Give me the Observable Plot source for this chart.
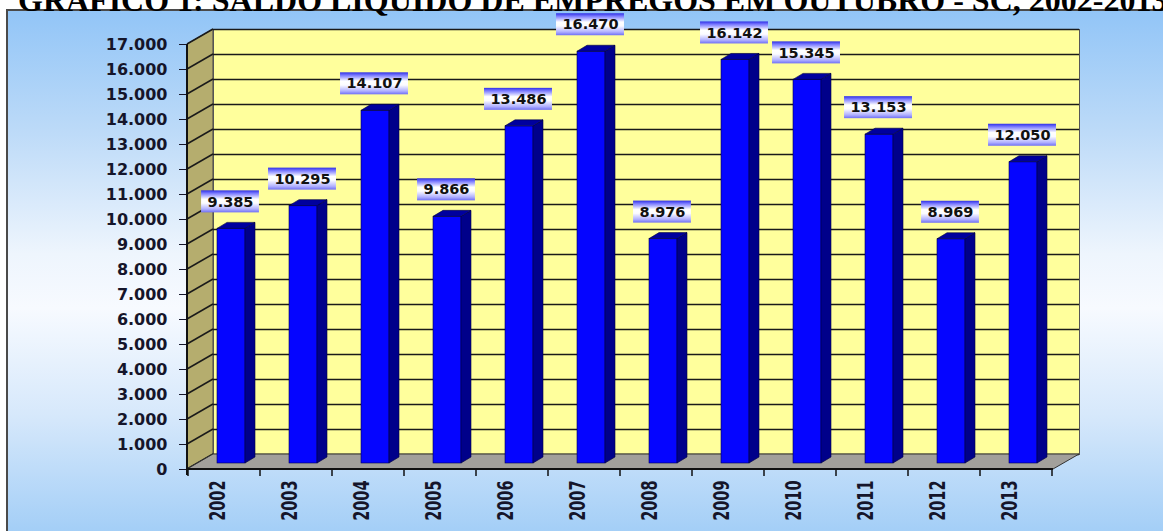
<!DOCTYPE html>
<html>
<head>
<meta charset="utf-8">
<script src="https://cdn.jsdelivr.net/npm/d3@7"></script>
<script src="https://cdn.jsdelivr.net/npm/@observablehq/plot@0.6"></script>
<style>
  html, body { margin: 0; padding: 0; width: 1163px; height: 531px; overflow: hidden; background: #ffffff; position: relative; }
  #frame { position: absolute; left: 6px; top: 9px; width: 1180px; height: 540px;
    border-left: 2px solid #4a4a4a; border-top: 2px solid #4a4a4a;
    background: linear-gradient(to bottom, #92c5f7 0%, #bcdaf8 22%, #eef5fd 45%, #f7faff 55%, #d6e8fb 75%, #9bcaf6 100%); }
  #chart { position: absolute; left: 0; top: 0; }
  #title { position: absolute; left: 18px; top: -18px; white-space: nowrap; line-height: 1;
    font: bold 32px "Liberation Serif", "Times New Roman", serif; color: #000; }
</style>
</head>
<body>
<div id="frame"></div>
<div id="chart"></div>
<div id="title">GRÁFICO 1: SALDO LÍQUIDO DE EMPREGOS EM OUTUBRO - SC, 2002-2013</div>
<script>
// ---- data ----
const years = ["2002", "2003", "2004", "2005", "2006", "2007", "2008", "2009", "2010", "2011", "2012", "2013"];
const saldo = [9385, 10295, 14107, 9866, 13486, 16470, 8976, 16142, 15345, 13153, 8969, 12050];
const yTickValues = [0, 1000, 2000, 3000, 4000, 5000, 6000, 7000, 8000, 9000, 10000, 11000, 12000, 13000, 14000, 15000, 16000, 17000];

const data = years.map((year, i) => ({year, value: saldo[i]}));
const ptBR = d3.formatLocale({decimal: ",", thousands: ".", grouping: [3], currency: ["R$", ""]});
const fmt = ptBR.format(",d");

// ---- 3D geometry (styling constants) ----
const DX = 26, DY = -15;          // wall depth
const BAR_L = 29, BAR_R = 15;     // front face insets within band
const BDX = 10, BDY = -6;         // bar depth
const LIFT = -6;                  // bar sits inside the floor

function bandwidth(x) {
  return typeof x.bandwidth === "function" ? x.bandwidth() : (x(years[1]) - x(years[0]));
}

function sideWall(index, scales, values, dim) {
  const {y} = scales;
  const left = dim.marginLeft;
  const y0 = y(0), yT = y(yTickValues[yTickValues.length - 1]);
  const g = d3.create("svg:g");
  g.append("polygon")
    .attr("points", [[left, y0], [left, yT], [left + DX, yT + DY], [left + DX, y0 + DY]].join(" "))
    .attr("fill", "#b5ad6e").attr("stroke", "#444").attr("stroke-width", 1);
  for (const t of yTickValues) {
    g.append("line").attr("x1", left).attr("y1", y(t)).attr("x2", left + DX).attr("y2", y(t) + DY)
      .attr("stroke", "#1a1a1a").attr("stroke-width", 1.5);
  }
  return g.node();
}

function floor(index, scales, values, dim) {
  const {x, y} = scales;
  const left = dim.marginLeft, right = dim.width - dim.marginRight;
  const y0 = y(0), yT = y(yTickValues[yTickValues.length - 1]);
  const g = d3.create("svg:g");
  g.append("polygon")
    .attr("points", [[left, y0], [right, y0], [right + DX, y0 + DY], [left + DX, y0 + DY]].join(" "))
    .attr("fill", "#a2a09b").attr("stroke", "#333").attr("stroke-width", 1);
  // front axis line
  g.append("line").attr("x1", left).attr("x2", right).attr("y1", y0).attr("y2", y0)
    .attr("stroke", "#111").attr("stroke-width", 2);
  // vertical axis line
  g.append("line").attr("x1", left).attr("x2", left).attr("y1", yT).attr("y2", y0 + 6)
    .attr("stroke", "#111").attr("stroke-width", 2);
  // category boundary ticks
  const bw = bandwidth(x);
  const bounds = years.map(yr => x(yr)).concat([x(years[years.length - 1]) + bw]);
  for (const bx of bounds) {
    g.append("line").attr("x1", bx).attr("x2", bx).attr("y1", y0).attr("y2", y0 + 7)
      .attr("stroke", "#111").attr("stroke-width", 1.5);
  }
  return g.node();
}

function barFaces(index, scales, values, dim) {
  const {x, y} = scales;
  const bw = bandwidth(x);
  const g = d3.create("svg:g");
  for (const d of data) {
    const x0 = x(d.year) + BAR_L, x1 = x(d.year) + bw - BAR_R;
    const yt = y(d.value) + LIFT, yb = y(0) + LIFT;
    g.append("polygon")
      .attr("points", [[x1, yt], [x1 + BDX, yt + BDY], [x1 + BDX, yb + BDY], [x1, yb]].join(" "))
      .attr("fill", "#00008a").attr("stroke", "#000040").attr("stroke-width", 0.6);
    g.append("polygon")
      .attr("points", [[x0, yt], [x1, yt], [x1 + BDX, yt + BDY], [x0 + BDX, yt + BDY]].join(" "))
      .attr("fill", "#00009e").attr("stroke", "#000040").attr("stroke-width", 0.6);
  }
  return g.node();
}

const LABEL_FONT = "bold 14.5px 'DejaVu Sans'";
const LDX = 6, LDY = -33;
function labelBoxes(index, scales, values, dim) {
  const {x, y} = scales;
  const bw = bandwidth(x);
  const ctx = document.createElement("canvas").getContext("2d");
  ctx.font = LABEL_FONT;
  const g = d3.create("svg:g");
  const defs = g.append("defs");
  const grad = defs.append("linearGradient").attr("id", "lblGrad")
    .attr("x1", 0).attr("y1", 0).attr("x2", 0).attr("y2", 1);
  [["0%", "#2f2fe6"], ["14%", "#7d7dff"], ["40%", "#ffffff"], ["58%", "#fbfbff"], ["85%", "#b0b0ff"], ["100%", "#6f6ff5"]]
    .forEach(([o, c]) => grad.append("stop").attr("offset", o).attr("stop-color", c));
  for (const d of data) {
    const w = ctx.measureText(fmt(d.value)).width + 12;
    const h = 22;
    const cx = x(d.year) + bw / 2 + LDX, cy = y(d.value) + LDY;
    g.append("rect").attr("x", cx - w / 2).attr("y", cy - h / 2).attr("width", w).attr("height", h)
      .attr("fill", "url(#lblGrad)");
  }
  return g.node();
}

const svg = Plot.plot({
  width: 1163,
  height: 531,
  marginLeft: 187,
  marginRight: 110,
  marginTop: 44,
  marginBottom: 62,
  style: {background: "transparent", fontFamily: "'DejaVu Sans', sans-serif", fontWeight: "bold", fontSize: "16px", color: "#15152a", overflow: "visible"},
  x: {domain: years, padding: 0, axis: null},
  y: {domain: [0, 17000], ticks: yTickValues, tickFormat: fmt, tickSize: 8, tickPadding: 12, label: null},
  marks: [
    sideWall,
    Plot.frame({fill: "#ffff9c", stroke: "#555", dx: DX, dy: DY}),
    Plot.ruleY(yTickValues, {dx: DX, dy: DY, stroke: "#1a1a1a", strokeWidth: 1.6}),
    floor,
    Plot.barY(data, {x: "year", y: "value", fill: "#0505ff", stroke: "#000050", strokeWidth: 0.6, insetLeft: BAR_L, insetRight: BAR_R, dy: LIFT}),
    barFaces,
    labelBoxes,
    Plot.text(data, {x: "year", y: "value", text: d => fmt(d.value), dx: LDX, dy: LDY, fontSize: 14.5, fontWeight: "bold", fontFamily: "'DejaVu Sans', sans-serif", fill: "#111"}),
    Plot.text(years, {x: d => d, frameAnchor: "bottom", rotate: -90, textAnchor: "end", dy: 11, fontSize: 14.5, fontWeight: "bold", fontFamily: "'DejaVu Sans', sans-serif", fill: "#15152a"})
  ]
});

// widen the rotated year labels to match the tall glyphs of the reference
d3.select(svg).selectAll("text").filter(function() {
  return /rotate\(-90\)/.test(this.getAttribute("transform") || "");
}).attr("transform", function() { return this.getAttribute("transform") + " scale(1,1.5)"; });

document.getElementById("chart").appendChild(svg);
</script>
</body>
</html>
